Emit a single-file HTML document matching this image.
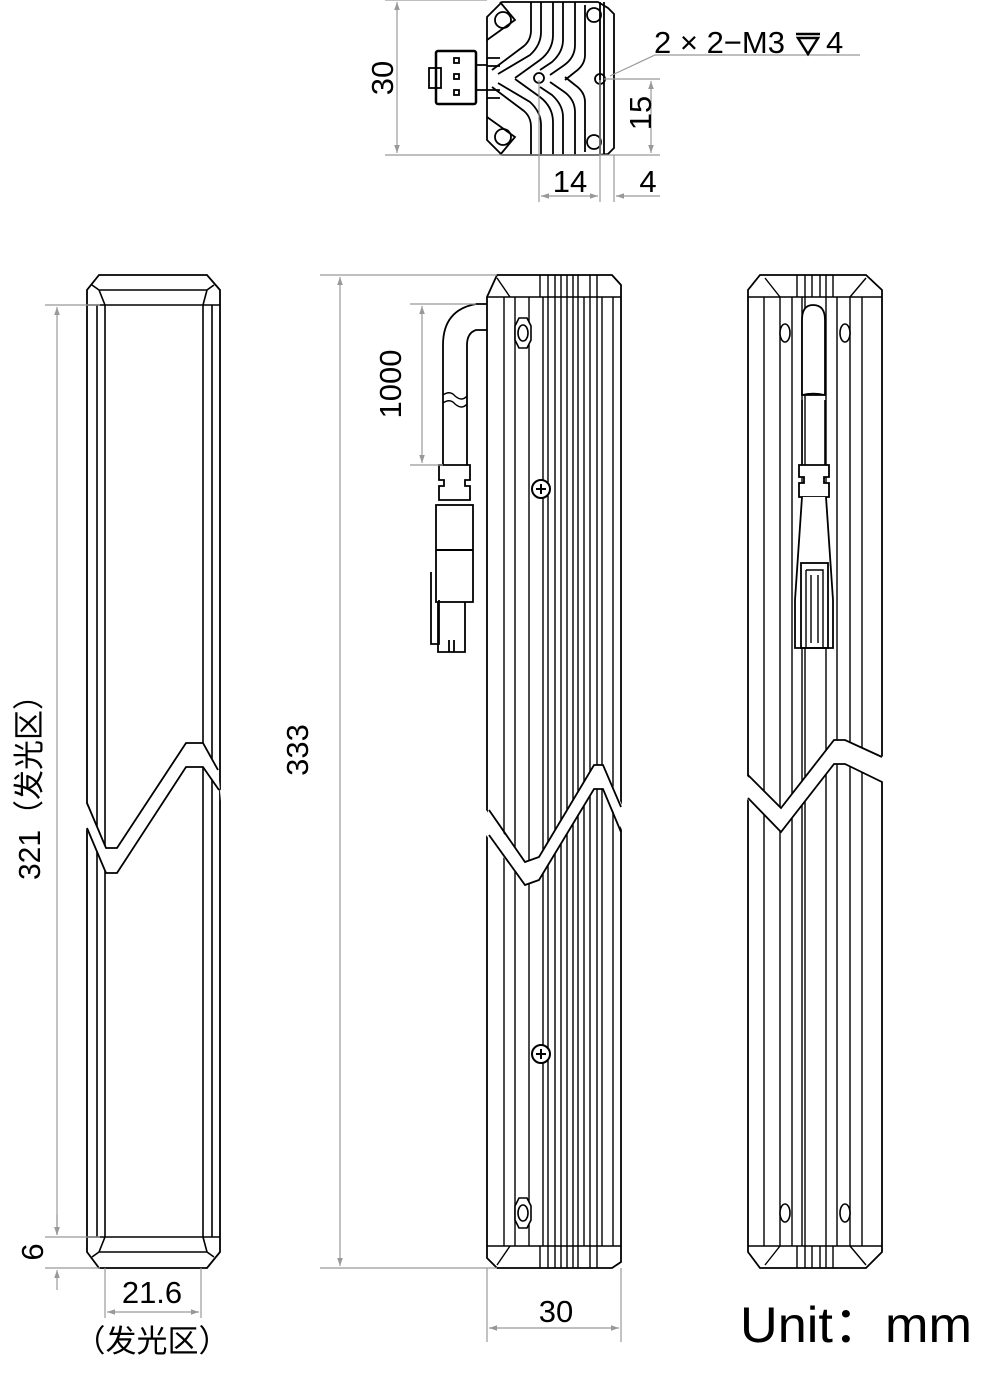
<!DOCTYPE html>
<html><head><meta charset="utf-8"><style>
html,body{margin:0;padding:0;background:#fff;width:1002px;height:1381px;overflow:hidden}
svg{display:block}
text{font-family:"Liberation Sans","Noto Sans CJK SC",sans-serif;fill:#000}
</style></head><body>
<svg width="1002" height="1381" viewBox="0 0 1002 1381" xmlns="http://www.w3.org/2000/svg">
<defs>
<marker id="a" viewBox="0 0 10 10" refX="10" refY="5" markerWidth="10" markerHeight="8" orient="auto-start-reverse" markerUnits="userSpaceOnUse"><path d="M0,1.5 L10,5 L0,8.5z" fill="#999"/></marker>
</defs>
<g fill="none" stroke="#000" stroke-width="2">
<!-- ===== TOP VIEW ===== -->
<g stroke-width="1.8">
<path d="M502,2 L598,2 L608,8 L614,14 L614,148 L608,154 L598,155 L502,155 L487,140 L487,17 Z"/>
<path d="M600,2 L600,155 M604,2 L604,155"/>
<path d="M531,2 L531,30 Q531,40 524,46 L492,70"/>
<path d="M541,2 L541,32 Q541,45 530,55 L498,74"/>
<path d="M553,2 L553,35 Q553,50 540,60 L515,78"/>
<path d="M563,2 L563,40 Q563,52 552,62 L540,70"/>
<path d="M575,2 L575,45 Q575,58 563,66 L550,75"/>
<path d="M585,5 L585,55 Q585,65 575,72 L565,80"/>
<path d="M531,155 L531,127 Q531,117 524,111 L492,87"/>
<path d="M541,155 L541,125 Q541,112 530,102 L498,83"/>
<path d="M553,155 L553,122 Q553,107 540,97 L515,79"/>
<path d="M563,155 L563,117 Q563,105 552,95 L540,87"/>
<path d="M575,155 L575,112 Q575,99 563,91 L550,82"/>
<path d="M585,152 L585,102 Q585,92 575,85 L565,77"/>
<path d="M487,58 L500,58 M487,66 L500,66 M487,90 L500,90 M487,98 L500,98"/>
<path d="M487,40 L515,20 L500,2 M487,117 L515,137 L500,155"/>
<circle cx="503" cy="20" r="8"/><circle cx="503" cy="137" r="8"/>
<circle cx="594" cy="15" r="7"/><circle cx="594" cy="142" r="7"/>
<circle cx="539" cy="78" r="5"/><circle cx="600" cy="79" r="5"/>
<rect x="436" y="51" width="40" height="53" rx="2" stroke-width="2.5"/>
<rect x="429" y="68" width="12" height="20"/>
<path d="M476,65 L487,65 M476,90 L487,90"/>
<rect x="454" y="58" width="5" height="5"/><rect x="454" y="74" width="5" height="5"/><rect x="454" y="90" width="5" height="5"/>
</g>

<!-- ===== LEFT VIEW ===== -->
<path d="M99,275 L207,275 L220,290 L220,1252 L207,1268 L99,1268 L87,1252 L87,290 Z" stroke-width="1.8"/>
<path d="M87,305 L220,305 M87,1237 L220,1237 M97,305 L97,1237 M105,305 L105,1237 M203,305 L203,1237 M212,305 L212,1237 M99,290 L207,290 M99,1252 L207,1252 M92,285 L99,290 L105,305 M214,285 L207,290 L203,305 M92,1257 L99,1252 L105,1237 M214,1257 L207,1252 L203,1237" stroke-width="1.6"/>
<path d="M86,803 L106,848 L117,848 L186,743 L203,743 L218,770 L222,812 L222,792 L203,767 L186,767 L117,873 L106,873 L86,828 Z" fill="#fff" stroke="none"/>
<path d="M87,803 L106,848 L117,848 L186,743 L203,743 L218,770 M87,828 L106,873 L117,873 L186,767 L203,767 L219,790" stroke-width="1.8"/>

<!-- ===== MIDDLE VIEW ===== -->
<path d="M497,275 L612,275 L621,285 L621,1262 L612,1268 L497,1268 L487,1258 L487,297 Z" stroke-width="1.8"/>
<path d="M487,297 L621,297 M487,1246 L621,1246" stroke-width="1.6"/>
<path d="M504,297V1246 M515,297V1246 M529,297V1246 M543,297V1246 M548,297V1246 M555,297V1246 M561,297V1246 M567,297V1246 M573,297V1246 M578,297V1246 M584,297V1246 M590,297V1246 M597,297V1246 M602,297V1246 M613,297V1246" stroke-width="1.4"/>
<path d="M540,275V297 M548,275V297 M555,275V297 M561,275V297 M567,275V297 M573,275V297 M578,275V297 M590,275V297 M597,275V297 M540,1246V1268 M548,1246V1268 M555,1246V1268 M561,1246V1268 M567,1246V1268 M573,1246V1268 M578,1246V1268 M590,1246V1268 M597,1246V1268 M497,278 L510,297 M497,1265 L510,1246" stroke-width="1.4"/>
<path d="M519,318 L527,318 L531,326 L531,340 L527,348 L519,348 L515,340 L515,326Z M519,1198 L527,1198 L531,1206 L531,1220 L527,1228 L519,1228 L515,1220 L515,1206Z" stroke-width="1.6" fill="#fff"/>
<ellipse cx="523" cy="333" rx="5" ry="8" stroke-width="1.6"/><ellipse cx="523" cy="1213" rx="5" ry="8" stroke-width="1.6"/>
<circle cx="541" cy="489" r="9" fill="#fff"/><path d="M536,489h10M541,484v10"/>
<circle cx="541" cy="1054" r="9" fill="#fff"/><path d="M536,1054h10M541,1049v10"/>
<path d="M486,810 L525,862 L539,857 L594,765 L603,765 L623,807 L623,832 L603,789 L594,789 L539,880 L525,885 L486,835 Z" fill="#fff" stroke="none"/>
<path d="M489,810 L525,862 L539,857 L594,765 L603,765 L621,807 M489,835 L525,885 L539,880 L594,789 L603,789 L621,832" stroke-width="1.8"/>
<path d="M487,304 L476,304 Q443,310 443,345 L443,465 M487,330 L476,330 Q467,333 467,345 L467,465" stroke-width="1.8"/>
<path d="M443,395 Q450,390 455,396 Q462,402 467,396 M443,403 Q450,398 455,404 Q462,410 467,404" stroke-width="1.4"/>
<path d="M439,465 h31 v15 h-5 v6 h5 v14 h-31 v-14 h5 v-6 h-5z" stroke-width="1.8"/>
<rect x="436" y="505" width="37" height="97" stroke-width="1.8"/>
<path d="M436,550 h37"/>
<path d="M431,572 v72 h8 v-44 M438,602 v50 h27 v-50 M449,640 v12 M454,640 v12" stroke-width="1.8"/>

<!-- ===== RIGHT VIEW ===== -->
<path d="M760,275 L866,275 L882,290 L882,1252 L866,1268 L760,1268 L748,1252 L748,290 Z" stroke-width="1.8"/>
<path d="M748,297 L882,297 M748,1246 L882,1246" stroke-width="1.6"/>
<path d="M764,297V1246 M780,297V1246 M792,297V1246 M802,297V1246 M805,297V1246 M826,297V1246 M837,297V1246 M850,297V1246 M862,297V1246" stroke-width="1.4"/>
<path d="M797,275V297 M805,275V297 M812,275V297 M820,275V297 M826,275V297 M833,275V297 M797,1246V1268 M805,1246V1268 M812,1246V1268 M820,1246V1268 M826,1246V1268 M833,1246V1268 M765,278 L780,297 M866,278 L850,297 M765,1265 L780,1246 M866,1265 L850,1246" stroke-width="1.4"/>
<ellipse cx="785" cy="333" rx="5" ry="9" stroke-width="1.6" fill="#fff"/><ellipse cx="845" cy="333" rx="5" ry="9" stroke-width="1.6" fill="#fff"/>
<ellipse cx="785" cy="1213" rx="5" ry="9" stroke-width="1.6" fill="#fff"/><ellipse cx="845" cy="1213" rx="5" ry="9" stroke-width="1.6" fill="#fff"/>
<path d="M802,395 L802,320 Q802,305 813,305 Q825,305 825,320 L825,395 Z" fill="#fff" stroke-width="1.8"/>
<path d="M802,395 Q813,392 825,395 M802,400 L802,465 M825,400 L825,465" stroke-width="1.6"/>
<path d="M799,465 h30 v12 h-5 v6 h5 v14 h-30 v-14 h5 v-6 h-5z" fill="#fff" stroke-width="1.8"/>
<path d="M802,497 L795,600 L795,648 L833,648 L833,600 L826,497" fill="#fff" stroke-width="1.8"/>
<rect x="801" y="563" width="27" height="85" stroke-width="1.8"/>
<path d="M806,570 h17 v78 M806,570 v78 M811,575 v68 M818,575 v68" stroke-width="1.4"/>
<path d="M746,775 L781,808 L834,740 L845,740 L884,757 L884,782 L845,764 L834,764 L781,832 L746,798 Z" fill="#fff" stroke="none"/>
<path d="M748,775 L781,808 L834,740 L845,740 L882,757 M748,798 L781,832 L834,764 L845,764 L882,782" stroke-width="1.8"/>
</g>

<!-- ===== DIMENSIONS ===== -->
<g stroke="#999" stroke-width="1.2" fill="none">
<path d="M385,0 H487 M385,155 H614"/>
<path d="M397,2 V153" marker-start="url(#a)" marker-end="url(#a)"/>
<path d="M604,79 H660 M614,155 H660"/>
<path d="M651,81 V153" marker-start="url(#a)" marker-end="url(#a)"/>
<path d="M539,80 V202 M600,80 V202 M614,155 V202"/>
<path d="M541,196 H598" marker-start="url(#a)" marker-end="url(#a)"/>
<path d="M616,196 H660" marker-start="url(#a)"/>
<path d="M610,76 L655,55 H860"/>
<path d="M320,275 H497 M320,1268 H497"/>
<path d="M340,277 V1266" marker-start="url(#a)" marker-end="url(#a)"/>
<path d="M410,304 H476 M410,465 H443"/>
<path d="M422,306 V463" marker-start="url(#a)" marker-end="url(#a)"/>
<path d="M45,305 H100 M45,1237 H100 M45,1268 H100"/>
<path d="M57,307 V1235" marker-start="url(#a)" marker-end="url(#a)"/>
<path d="M57,1215 V1235" marker-end="url(#a)"/>
<path d="M57,1290 V1270" marker-end="url(#a)"/>
<path d="M105,1268 V1318 M201,1268 V1318"/>
<path d="M107,1312 H199" marker-start="url(#a)" marker-end="url(#a)"/>
<path d="M487,1268 V1342 M621,1268 V1342"/>
<path d="M489,1328 H619" marker-start="url(#a)" marker-end="url(#a)"/>
</g>

<g font-size="31">
<text x="385" y="78" text-anchor="middle" transform="rotate(-90 385 78)" dominant-baseline="middle">30</text>
<text x="643" y="113" text-anchor="middle" transform="rotate(-90 643 113)" dominant-baseline="middle">15</text>
<text x="570" y="192" text-anchor="middle">14</text>
<text x="648" y="192" text-anchor="middle">4</text>
<text x="654" y="53">2 × 2−M3</text>
<text x="826" y="53">4</text>
<text x="393" y="384" text-anchor="middle" transform="rotate(-90 393 384)" dominant-baseline="middle">1000</text>
<text x="300" y="750" text-anchor="middle" transform="rotate(-90 300 750)" dominant-baseline="middle">333</text>
<text x="32" y="780" text-anchor="middle" transform="rotate(-90 32 780)" dominant-baseline="middle" textLength="200" lengthAdjust="spacingAndGlyphs">321（发光区）</text>
<text x="35" y="1252" text-anchor="middle" transform="rotate(-90 35 1252)" dominant-baseline="middle">6</text>
<text x="152" y="1303" text-anchor="middle">21.6</text>
<text x="152" y="1352" text-anchor="middle">（发光区）</text>
<text x="556" y="1322" text-anchor="middle">30</text>
<text x="740" y="1342" font-size="50" textLength="232" lengthAdjust="spacingAndGlyphs">Unit：mm</text>
</g>
<path d="M796,34 H820 M798,38 H818 L808,54 Z" stroke="#000" stroke-width="2.5" fill="none"/>
</svg>
</body></html>
